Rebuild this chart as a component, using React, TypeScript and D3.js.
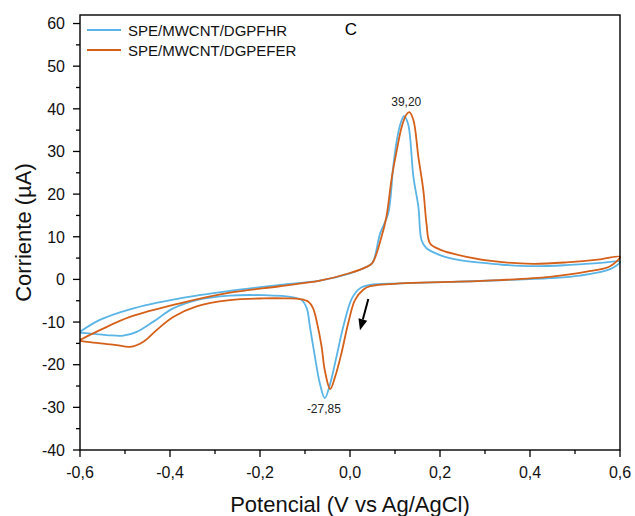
import React from "react";
import * as d3 from "d3";

const W = 635;
const H = 516;
const margin = { left: 80, right: 15, top: 15, bottom: 66 };

const xTicks = [-0.6, -0.4, -0.2, 0.0, 0.2, 0.4, 0.6];
const xMinorTicks = [-0.5, -0.3, -0.1, 0.1, 0.3, 0.5];
const yTicks = [-40, -30, -20, -10, 0, 10, 20, 30, 40, 50, 60];
const yMinorTicks = [-35, -25, -15, -5, 5, 15, 25, 35, 45, 55];

const seriesNames = ["SPE/MWCNT/DGPFHR", "SPE/MWCNT/DGPEFER"];
const seriesColors = ["#5ab4e6", "#d5601a"];

// SPE/MWCNT/DGPFHR (blue): potential (V) and current (µA), full cycle
const blueV = [
  -0.6, -0.556, -0.489, -0.378, -0.267, -0.156, -0.067, 0.0, 0.037, 0.05, 0.067, 0.085, 0.096, 0.104, 0.113, 0.12,
  0.129, 0.141, 0.152, 0.159, 0.17, 0.2, 0.244, 0.333, 0.407, 0.481, 0.556, 0.6,
  0.578, 0.511, 0.444, 0.333, 0.222, 0.111, 0.044, 0.022, 0.004, -0.015, -0.03, -0.044, -0.056,
  -0.067, -0.078, -0.089, -0.096, -0.107, -0.126, -0.193, -0.267, -0.341, -0.393, -0.437, -0.474, -0.504, -0.541, -0.6,
];
const blueI = [
  -12.3, -9.5, -7.0, -4.45, -2.7, -1.3, -0.3, 1.4, 2.95, 3.9, 10.8, 15.5, 26.4, 32.6, 36.8, 38.3,
  36.5, 24, 17, 9.2, 7.3, 5.7, 4.5, 3.5, 3.1, 3.35, 3.9, 4.1,
  2.4, 0.9, 0.3, -0.2, -0.6, -0.95, -1.3, -2.1, -4.5, -11.1, -18.1, -24.4, -27.85,
  -24.4, -18.1, -11.1, -6.8, -4.85, -4.2, -3.7, -3.8, -4.85, -6.8, -9.9, -12.3, -13.2, -13.05, -12.5,
];

// SPE/MWCNT/DGPEFER (orange)
const orangeV = [
  -0.6, -0.556, -0.489, -0.378, -0.267, -0.156, -0.067, 0.0, 0.037, 0.05, 0.07, 0.081, 0.093, 0.104, 0.115, 0.125, 0.132,
  0.141, 0.152, 0.163, 0.17, 0.178, 0.2, 0.259, 0.333, 0.407, 0.481, 0.556, 0.6,
  0.578, 0.526, 0.444, 0.333, 0.222, 0.111, 0.045, 0.03, 0.011, -0.004, -0.019, -0.033, -0.044,
  -0.056, -0.063, -0.073, -0.082, -0.093, -0.111, -0.141, -0.193, -0.267, -0.341, -0.393, -0.43, -0.459, -0.489, -0.519, -0.563, -0.6,
];
const orangeI = [
  -14.2, -11.9, -8.8, -5.6, -3.1, -1.6, -0.3, 1.5, 2.95, 3.9, 10.0, 14.7, 24, 30.3, 35.8, 38.6, 39.2,
  37.3, 28.7, 20.9, 13.1, 8.4, 7.0, 5.3, 4.1, 3.66, 4.0, 4.7, 5.3,
  3.1, 1.8, 0.6, -0.15, -0.6, -0.95, -1.6, -2.35, -4.85, -10.3, -17.3, -22.8, -25.7,
  -21.3, -15.8, -10.3, -6.8, -5.2, -4.6, -4.45, -4.45, -4.85, -6.3, -8.8, -11.9, -14.6, -15.8, -15.4, -14.9, -14.4,
];

const peakLabels = [
  { v: 0.125, i: 39.2, text: "39,20", dy: -6 },
  { v: -0.058, i: -27.85, text: "-27,85", dy: 15 },
];

// scan direction arrow (data units)
const arrowFrom = [0.0407, -4.6];
const arrowTo = [0.0222, -11.9];

export default function App() {
  const x = d3.scaleLinear().domain([-0.6, 0.6]).range([margin.left, W - margin.right]);
  const y = d3.scaleLinear().domain([-40, 62]).range([H - margin.bottom, margin.top]);

  const line = d3
    .line<[number, number]>()
    .x((d) => x(d[0]))
    .y((d) => y(d[1]))
    .curve(d3.curveCatmullRom.alpha(0.5));

  const blue = blueV.map((v, k) => [v, blueI[k]] as [number, number]);
  const orange = orangeV.map((v, k) => [v, orangeI[k]] as [number, number]);

  const x0 = x(-0.6);
  const x1 = x(0.6);
  const yb = y(-40);
  const yt = margin.top;
  const font = "Arial, 'Liberation Sans', sans-serif";

  const ax = x(arrowFrom[0]);
  const ay = y(arrowFrom[1]);
  const bx = x(arrowTo[0]);
  const by = y(arrowTo[1]);
  const ang = Math.atan2(by - ay, bx - ax);
  const hl = 11;
  const hw = 4.5;
  const baseX = bx - hl * Math.cos(ang);
  const baseY = by - hl * Math.sin(ang);
  const head = [
    [bx, by],
    [baseX + hw * Math.sin(ang), baseY - hw * Math.cos(ang)],
    [baseX - hw * Math.sin(ang), baseY + hw * Math.cos(ang)],
  ]
    .map((p) => p.join(","))
    .join(" ");

  return (
    <svg width={W} height={H} style={{ position: "absolute", left: 0, top: 0, background: "#fff" }} fontFamily={font}>
      <rect x={0} y={0} width={W} height={H} fill="#fff" />
      {/* curves */}
      <path d={line(blue) || ""} fill="none" stroke={seriesColors[0]} strokeWidth={1.8} />
      <path d={line(orange) || ""} fill="none" stroke={seriesColors[1]} strokeWidth={1.8} />

      {/* frame */}
      <rect x={x0} y={yt} width={x1 - x0} height={yb - yt} fill="none" stroke="#000" strokeWidth={1.4} />

      {/* x ticks */}
      {xTicks.map((t) => (
        <g key={"xt" + t}>
          <line x1={x(t)} x2={x(t)} y1={yb} y2={yb + 7} stroke="#000" strokeWidth={1.3} />
          <text x={x(t)} y={478} textAnchor="middle" fontSize={16} fill="#111">
            {t.toFixed(1).replace(".", ",").replace("-0,0", "0,0")}
          </text>
        </g>
      ))}
      {xMinorTicks.map((t) => (
        <line key={"xm" + t} x1={x(t)} x2={x(t)} y1={yb} y2={yb + 4} stroke="#000" strokeWidth={1.3} />
      ))}

      {/* y ticks */}
      {yTicks.map((t) => (
        <g key={"yt" + t}>
          <line x1={x0 - 7} x2={x0} y1={y(t)} y2={y(t)} stroke="#000" strokeWidth={1.3} />
          <text x={65} y={y(t)} dy="0.36em" textAnchor="end" fontSize={16} fill="#111">
            {t}
          </text>
        </g>
      ))}
      {yMinorTicks.map((t) => (
        <line key={"ym" + t} x1={x0 - 4} x2={x0} y1={y(t)} y2={y(t)} stroke="#000" strokeWidth={1.3} />
      ))}

      {/* axis titles */}
      <text x={(x0 + x1) / 2} y={512} textAnchor="middle" fontSize={22} fill="#111">
        Potencial (V vs Ag/AgCl)
      </text>
      <text
        transform={`translate(31, ${(yt + yb) / 2}) rotate(-90)`}
        textAnchor="middle"
        fontSize={22}
        fill="#111"
      >
        Corriente (µA)
      </text>

      {/* legend */}
      {seriesNames.map((n, k) => (
        <g key={n}>
          <line x1={87} x2={121} y1={30 + k * 20} y2={30 + k * 20} stroke={seriesColors[k]} strokeWidth={1.8} />
          <text x={128} y={36 + k * 20} fontSize={15} fill="#111">
            {n}
          </text>
        </g>
      ))}

      {/* panel letter */}
      <text x={351} y={35} textAnchor="middle" fontSize={17} fill="#000">
        C
      </text>

      {/* peak labels */}
      {peakLabels.map((p) => (
        <text key={p.text} x={x(p.v)} y={y(p.i) + p.dy} textAnchor="middle" fontSize={12} fill="#222">
          {p.text}
        </text>
      ))}

      {/* arrow */}
      <line x1={ax} y1={ay} x2={baseX} y2={baseY} stroke="#000" strokeWidth={2} />
      <polygon points={head} fill="#000" />
    </svg>
  );
}
